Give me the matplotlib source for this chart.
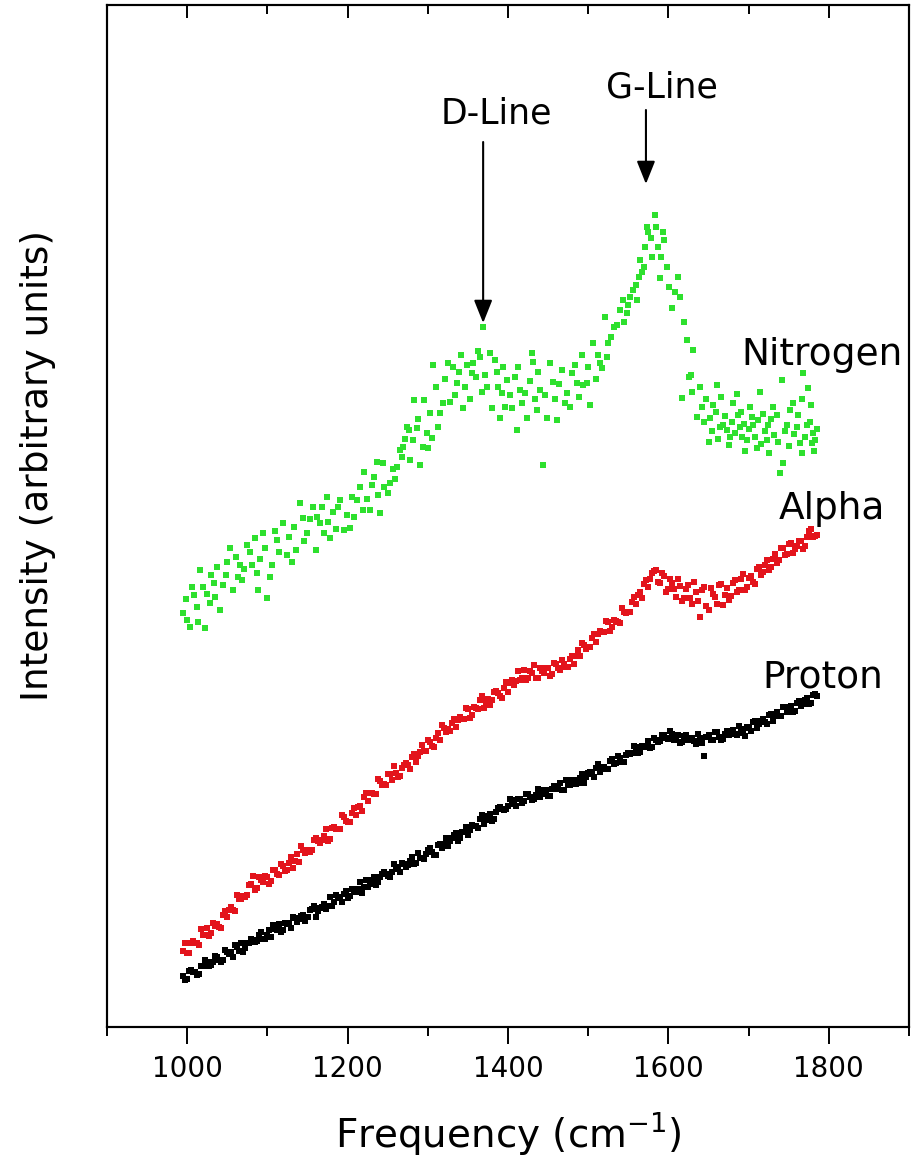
import numpy as np
import matplotlib
matplotlib.use("Agg")
import matplotlib.pyplot as plt
from matplotlib.ticker import FixedLocator

plt.rcParams["font.family"] = ["DejaVu Sans"]

# Raman spectra of irradiated samples: two interleaved scans, each sampled
# every 5 cm^-1 (first scan starts at 995 cm^-1, second at 997.5 cm^-1)
GRID_STEP = 5
SCAN_STARTS = [995.0, 997.5]

PROTON_INT = [
    51, 48, 57, 55, 53, 61, 65, 62, 71, 67, 67, 75,
    75, 82, 76, 75, 84, 88, 85, 92, 88, 92, 90, 98,
    103, 97, 103, 99, 109, 108, 112, 110, 118, 110, 119,
    123, 121, 121, 132, 129, 133, 129, 138, 135, 145, 140, 140,
    147, 142, 150, 155, 151, 155, 160, 155, 163, 162, 170, 164, 169,
    168, 177, 175, 172, 183, 183, 181, 189,
    194, 189, 195, 192, 202, 201, 208, 203,
    211, 206, 215, 220, 217, 221, 227,
    221, 228, 226, 233, 227, 232, 230, 237,
    231, 238, 238, 244, 237, 243, 247, 243, 249,
    244, 254, 253, 259, 255, 260,
    258, 268, 264, 269, 265, 274, 274,
    280, 275, 280, 286, 280, 287, 286, 292,
    288, 293, 289, 284, 291, 287, 289,
    283, 289, 271, 292, 287, 295,
    287, 293, 292, 297, 292, 298, 291,
    299, 305, 299, 306, 305, 312, 306,
    315, 311, 320, 317, 315, 324,
    321, 327, 323, 332, 331,
]

PROTON_INT_B = [
    47, 56, 55, 52, 61, 67, 61, 65, 70, 65, 77, 73,
    70, 80, 84, 79, 84, 87, 86, 95, 88, 97, 102, 97,
    95, 104, 104, 110, 105, 111, 106, 117, 121, 116, 120,
    118, 130, 125, 130, 125, 136, 131, 137, 138, 134, 147, 143,
    150, 145, 153, 153, 150, 163, 158, 164, 160, 166, 163, 174, 169,
    173, 179, 172, 182, 179, 189, 186, 192,
    186, 195, 200, 197, 201, 199, 212, 207,
    213, 208, 219, 218, 218, 228, 223,
    228, 224, 233, 230, 228, 238, 233, 237,
    231, 241, 239, 237, 247, 242, 247, 244, 253,
    250, 255, 250, 263, 259, 258,
    266, 263, 271, 265, 272, 273, 281,
    274, 281, 281, 279, 289, 285, 292, 289,
    296, 287, 292, 285, 292, 288, 286,
    293, 284, 290, 287, 295, 290,
    288, 296, 294, 293, 301, 294, 300,
    296, 306, 303, 308, 303, 313, 312,
    311, 320, 315, 321, 316, 326,
    323, 329, 324, 333,
]

ALPHA_INT = [
    76, 74, 84, 84, 82, 92,
    99, 94, 101, 100, 112,
    110, 120, 116, 128, 131, 132,
    143, 137, 150, 145, 150, 146, 157, 152,
    161, 157, 170, 166, 165, 177, 177,
    177, 189, 184, 191, 186, 199, 198, 198, 210, 205,
    214, 212, 221, 230, 226, 234, 233,
    246, 243, 253, 247, 254, 251, 262, 262,
    270, 265, 275, 276, 287, 281, 289,
    287, 299, 298, 304, 300, 310,
    308, 318, 312, 319, 327, 319, 328,
    327, 336, 331, 339, 335, 347, 346, 347,
    357, 349, 354, 349, 359, 354, 359, 353, 363, 357,
    363, 360, 371, 371, 371,
    382, 380, 389, 385, 396,
    395, 405, 400, 406, 404,
    415, 415, 425, 423, 435,
    443, 440, 454, 457, 444,
    451, 438, 444, 430, 441, 429,
    442, 423, 435, 410, 440, 417, 433,
    423, 443, 432, 427, 444, 435,
    448, 437, 449, 445, 458, 452,
    462, 457, 468, 464,
    479, 472, 483, 474, 481,
    486, 481, 496, 490, 492,
]

ALPHA_INT_B = [
    84, 74, 86, 84, 98, 92, 91, 104, 103, 99,
    116, 117, 117, 132, 128, 130, 142, 151, 139, 147,
    151, 143, 157, 153, 163, 156, 164, 159, 173, 181,
    174, 175, 187, 186, 187, 198, 188, 200, 198, 212,
    206, 205, 219, 220, 216, 234, 234, 233, 248, 242,
    242, 253, 261, 250, 259, 264, 258, 273, 271, 282,
    276, 285, 280, 294, 302, 295, 296, 308, 307, 308,
    319, 309, 320, 318, 331, 325, 322, 335, 334, 329,
    345, 344, 342, 356, 349, 347, 356, 362, 349, 356,
    359, 351, 364, 359, 367, 360, 368, 363, 377, 384,
    378, 380, 393, 393, 395, 406, 396, 407, 405, 419,
    414, 415, 430, 432, 429, 447, 448, 456, 445, 454,
    435, 448, 438, 448, 426, 438, 429, 445, 426, 437,
    421, 439, 430, 442, 422, 439, 431, 447, 437, 453,
    440, 451, 443, 460, 455, 467, 460, 473, 467, 479,
    473, 484, 478, 486, 478, 490, 498, 491,
]

NITROGEN_FREQ = [
    995, 1000, 1003, 1006, 1012, 1016, 1020, 1022, 1028, 1033, 1037, 1041,
    1045, 1053, 1057, 1066, 1068, 1078, 1084, 1087, 1088, 1094, 1097, 1099,
    1103, 1112, 1119, 1124, 1131, 1136, 1141, 1144, 1149, 1157, 1160, 1162,
    1166, 1170, 1174, 1178, 1182, 1191, 1195, 1203, 1212, 1219, 1221, 1228,
    1230, 1237, 1238, 1241, 1244, 1250, 1253, 1262, 1265, 1269, 1274, 1276,
    1278, 1282, 1283, 1286, 1290, 1294, 1295, 1299, 1300, 1303, 1305, 1306,
    1315, 1319, 1325, 1328, 1331, 1337, 1342, 1344, 1349, 1355, 1356, 1365,
    1367, 1371, 1369, 1377, 1380, 1384, 1386, 1390, 1392, 1396, 1399, 1405,
    1409, 1411, 1415, 1421, 1424, 1430, 1431, 1436, 1440, 1444, 1449, 1452,
    1456, 1461, 1467, 1471, 1474, 1480, 1486, 1492, 1494, 1498, 1502, 1506,
    1515, 1517, 1523, 1521, 1525, 1532, 1536, 1540, 1543, 1548, 1552, 1556,
    1561, 1559, 1565, 1567, 1569, 1571, 1573, 1578, 1583, 1587, 1589, 1595,
    1601, 1605, 1612, 1614, 1617, 1623, 1626, 1628, 1629, 1631, 1636, 1639,
    1642, 1650, 1652, 1656, 1661, 1664, 1668, 1673, 1677, 1681, 1687, 1689,
    1692, 1698, 1702, 1706, 1710, 1714, 1723, 1724, 1730, 1739, 1742, 1743,
    1748, 1752, 1755, 1760, 1764, 1767, 1768, 1773, 1774, 1779, 1780, 1783,
    1645, 1647, 1654, 1659, 1662, 1666, 1670, 1675, 1679, 1683, 1685, 1691,
    1694, 1696, 1700, 1704, 1708, 1712, 1716, 1718, 1720, 1726, 1728, 1732,
    1735, 1737, 1745, 1750, 1757, 1762, 1766, 1770, 1776, 1778, 1785, 1782,
    998, 1009, 1014, 1025, 1030, 1035, 1048, 1050, 1061, 1063, 1071, 1074,
    1081, 1091, 1106, 1109, 1115, 1127, 1133, 1146, 1153, 1168, 1176, 1186,
    1188, 1199, 1206, 1208, 1215, 1224, 1233, 1246, 1256, 1259, 1268, 1272,
    1288,
    1310, 1313, 1322, 1334, 1339, 1346, 1352, 1360, 1362, 1374, 1388, 1394,
    1402, 1413, 1418, 1427, 1434, 1438, 1446, 1459, 1464, 1477, 1483, 1489,
    1500, 1510, 1512, 1528, 1545, 1550, 1563, 1575, 1580, 1585, 1591, 1593,
    1598, 1608, 1619,
]

NITROGEN_INT = [
    414, 407, 400, 440, 420, 457, 440, 399, 424, 444, 460, 417,
    442, 479, 437, 462, 447, 475, 489, 454, 437, 494, 479, 429,
    450, 487, 504, 472, 465, 477, 524, 509, 494, 520, 477, 510,
    504, 494, 530, 489, 515, 527, 497, 499, 527, 517, 555, 517,
    542, 565, 532, 514, 564, 534, 544, 560, 577, 580, 600, 597,
    567, 587, 627, 599, 562, 580, 627, 594, 579, 614, 589, 662,
    614, 624, 664, 625, 660, 644, 672, 619, 662, 654, 664, 670,
    635, 652, 700, 674, 619, 667, 655, 609, 634, 620, 647, 619,
    650, 597, 637, 634, 609, 674, 665, 617, 637, 562, 609, 664,
    645, 607, 657, 624, 634, 654, 644, 672, 642, 644, 622, 684,
    664, 659, 670, 710, 684, 700, 702, 717, 727, 714, 730, 737,
    727, 742, 767, 755, 760, 780, 800, 789, 812, 780, 749, 787,
    740, 719, 750, 730, 629, 687, 650, 652, 635, 677, 610, 640,
    620, 585, 609, 622, 642, 600, 602, 597, 590, 624, 612, 600,
    590, 587, 620, 602, 579, 635, 587, 602, 620, 554, 647, 564,
    602, 617, 624, 600, 584, 574, 654, 602, 639, 584, 594, 587,
    605, 628, 596, 615, 588, 630, 611, 582, 605, 594, 633, 615,
    603, 576, 598, 610, 590, 607, 583, 613, 596, 574, 608, 592,
    612, 585, 596, 581, 593, 612, 628, 590, 605, 622, 598, 576,
    428, 432, 405, 433, 452, 430, 452, 465, 470, 450, 458, 482,
    462, 468, 462, 496, 475, 490, 500, 486, 508, 520, 505, 498,
    520, 512, 530, 510, 540, 528, 550, 540, 558, 548, 570, 588,
    608,
    640, 600, 648, 632, 655, 640, 628, 650, 676, 640, 640, 660,
    632, 660, 624, 646, 628, 655, 632, 628, 643, 620, 662, 630,
    660, 648, 672, 690, 705, 722, 750, 795, 770, 800, 770, 795,
    760, 735, 705,
]

SERIES = [
    ("Proton", [PROTON_INT, PROTON_INT_B], "#000000"),
    ("Alpha", [ALPHA_INT, ALPHA_INT_B], "#e3141c"),
]
NITROGEN_COLOR = "#2ee02e"

SERIES_TEXT = ["Nitrogen", "Alpha", "Proton"]
SERIES_TEXT_POS = [(1791, 662), (1804, 508), (1793, 340)]

PEAK_NAMES = ["D-Line", "G-Line"]
PEAK_FREQ = [1369, 1572]
PEAK_ARROW_Y = [(885, 704), (917, 843)]
PEAK_TEXT_POS = [(1385, 904), (1592, 930)]

XTICKS = [1000, 1200, 1400, 1600, 1800]
XMINOR_BOTTOM = [900, 1100, 1300, 1500, 1700, 1900]
XMINOR_TOP = [1100, 1300, 1500, 1700]

MARKER_AREA = 16

fig = plt.figure(figsize=(9.13, 11.68), dpi=100)
ax = fig.add_axes([107 / 913, 141 / 1168, 802 / 913, 1022 / 1168])

for name, scans, color in SERIES:
    for start, values in zip(SCAN_STARTS, scans):
        freq = start + GRID_STEP * np.arange(len(values))
        ax.scatter(freq, values, s=MARKER_AREA, marker="s", color=color,
                   linewidths=0, zorder=3)

ax.scatter(NITROGEN_FREQ, NITROGEN_INT, s=MARKER_AREA, marker="s",
           color=NITROGEN_COLOR, linewidths=0, zorder=3)

ax.set_xlim(900, 1900)
ax.set_ylim(0, 1022)
ax.set_yticks([])
ax.set_xticks(XTICKS)
ax.set_xticklabels([str(t) for t in XTICKS])
ax.xaxis.set_minor_locator(FixedLocator(XMINOR_BOTTOM))
ax.tick_params(axis="x", which="major", direction="out", length=12, width=1.4,
               labelsize=20, pad=8, top=False, colors="black")
ax.tick_params(axis="x", which="minor", direction="out", length=6.5, width=1.4,
               top=False)
for spine in ax.spines.values():
    spine.set_linewidth(1.5)

top = ax.twiny()
top.set_xlim(900, 1900)
top.set_xticks(XTICKS)
top.xaxis.set_minor_locator(FixedLocator(XMINOR_TOP))
top.tick_params(axis="x", which="major", direction="in", length=9, width=1.4,
                labeltop=False)
top.tick_params(axis="x", which="minor", direction="in", length=6.5, width=1.4)
for spine in top.spines.values():
    spine.set_linewidth(1.5)

ax.set_xlabel("Frequency (cm$^{-1}$)", fontsize=28)
ax.xaxis.set_label_coords(0.5, -0.081)
ax.set_ylabel("Intensity (arbitrary units)", fontsize=27)
ax.yaxis.set_label_coords(-0.0636, 0.549)

for text, (x, y) in zip(SERIES_TEXT, SERIES_TEXT_POS):
    ax.text(x, y, text, fontsize=27, ha="center", va="baseline", zorder=4)

for name, f, (y0, y1), (tx, ty) in zip(PEAK_NAMES, PEAK_FREQ, PEAK_ARROW_Y, PEAK_TEXT_POS):
    ax.annotate("", xy=(f, y1), xytext=(f, y0),
                arrowprops=dict(arrowstyle="-|>,head_length=0.7,head_width=0.28",
                                mutation_scale=20, lw=1.5, color="black",
                                shrinkA=0, shrinkB=0),
                zorder=4)
    ax.text(tx, ty, name, fontsize=25, ha="center", va="baseline", zorder=4)

fig.savefig("out.png", dpi=100, facecolor="white")
